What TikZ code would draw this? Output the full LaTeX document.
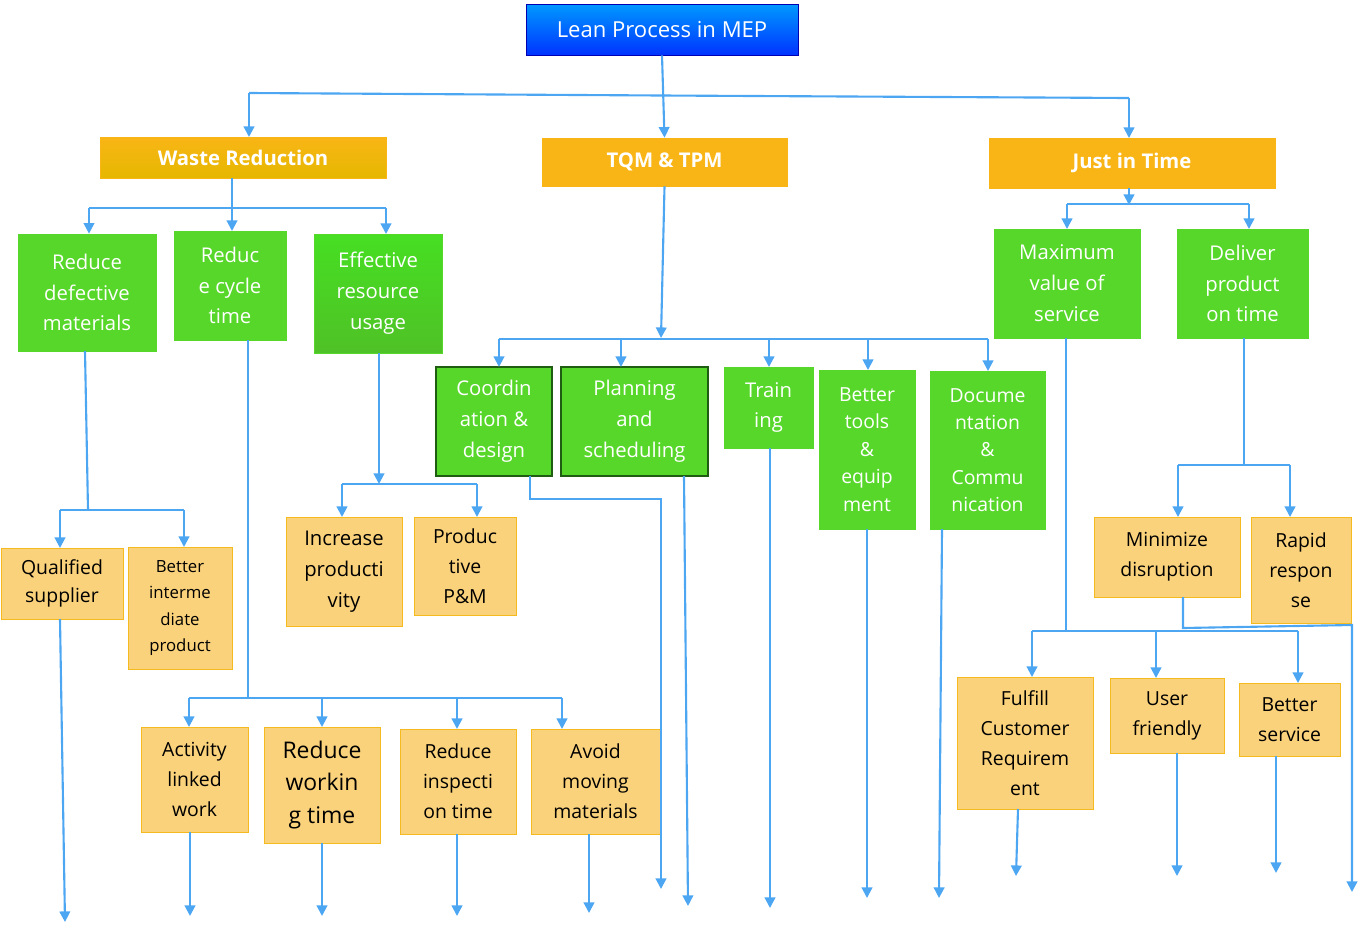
\documentclass[tikz,border=0pt]{standalone}
\usepackage{fontspec}
\setmainfont{Open Sans}
\usetikzlibrary{arrows.meta}
\definecolor{ln}{HTML}{4DA6F2}
\definecolor{gr}{HTML}{58D72B}
\definecolor{dg}{HTML}{1F5E12}
\definecolor{lo}{HTML}{FAD27C}
\definecolor{lob}{HTML}{F5BA1E}
\definecolor{og}{HTML}{F9B516}
\begin{document}
\begin{tikzpicture}[x=0.5669pt,y=-0.5669pt,
 sz/.style 2 args={minimum width=#1*0.5669pt, minimum height=#2*0.5669pt, inner sep=1pt},
 gbox/.style={draw=gr,fill=gr,text=white,align=center,font=\fontsize{11.5}{17.5}\selectfont},
 obox/.style={draw=lob,fill=lo,text=black,align=center,font=\fontsize{11.5}{17.5}\selectfont},
 hbox/.style={draw=og,fill=og,text=white,font=\bfseries\fontsize{11.5}{14}\selectfont},
 ar/.style={draw=ln,line width=1.2pt,-{Triangle[width=6pt,length=6pt]}},
 li/.style={draw=ln,line width=1.2pt}]
\useasboundingbox (0,0) rectangle (1363,925);
% top
\node[sz={272}{51},draw=blue!70!black,top color=blue!40!cyan,bottom color=blue!80!cyan,text=white,font=\fontsize{12.5}{15}\selectfont] (top) at (662,29.5) {Lean Process in MEP};
\node[hbox,sz={286}{41},top color=og,bottom color=yellow!60!orange!90!black] (wr) at (243,157.5) {Waste Reduction};
\node[hbox,sz={245}{48}] (tqm) at (664.5,162) {TQM \& TPM};
\node[hbox,sz={286}{50}] (jit) at (1132,163) {Just in Time};
% green
\node[gbox,sz={138}{117}] (g1) at (87,292.5) {Reduce\\defective\\materials};
\node[gbox,sz={112}{109}] (g2) at (230,285.5) {Reduc\\e cycle\\time};
\node[gbox,sz={128}{119},top color=gr!80!green,bottom color=gr!90!black] (g3) at (378,293.5) {Effective\\resource\\usage};
\node[gbox,sz={116}{109},draw=dg,line width=1.2pt] (g4) at (494,421.5) {Coordin\\ation \&\\design};
\node[gbox,sz={147}{109},draw=dg,line width=1.2pt] (g5) at (634.5,421.5) {Planning\\and\\scheduling};
\node[gbox,sz={89}{81}] (g6) at (768.5,407.5) {Train\\ing};
\node[gbox,sz={96}{159},font=\fontsize{11}{15.5}\selectfont] (g7) at (867,449.5) {Better\\tools\\\&\\equip\\ment};
\node[gbox,sz={115}{158},font=\fontsize{11}{15.5}\selectfont] (g8) at (987.5,450) {Docume\\ntation\\\&\\Commu\\nication};
\node[gbox,sz={146}{109}] (g9) at (1067,283.5) {Maximum\\value of\\service};
\node[gbox,sz={131}{109}] (g10) at (1242.5,283.5) {Deliver\\product\\on time};
% orange
\node[obox,sz={122}{71},font=\fontsize{11}{15.5}\selectfont] (o1) at (62,583.5) {Qualified\\supplier};
\node[obox,sz={104}{122},font=\fontsize{9.5}{15}\selectfont] (o2) at (180,608) {Better\\interme\\diate\\product};
\node[obox,sz={116}{109}] (o3) at (344,571.5) {Increase\\producti\\vity};
\node[obox,sz={102}{98},font=\fontsize{11}{17}\selectfont] (o4) at (465,566) {Produc\\tive\\P\&M};
\node[obox,sz={107}{105},font=\fontsize{11}{17}\selectfont] (o5) at (194.5,779.5) {Activity\\linked\\work};
\node[obox,sz={116}{116},font=\fontsize{13}{18.5}\selectfont] (o6) at (322,785) {Reduce\\workin\\g time};
\node[obox,sz={116}{105},font=\fontsize{11}{17}\selectfont] (o7) at (458,781.5) {Reduce\\inspecti\\on time};
\node[obox,sz={129}{105},font=\fontsize{11}{17}\selectfont] (o8) at (595.5,781.5) {Avoid\\moving\\materials};
\node[obox,sz={146}{80},font=\fontsize{11}{17}\selectfont] (o9) at (1167,557) {Minimize\\disruption};
\node[obox,sz={100}{106},font=\fontsize{11}{17}\selectfont] (o10) at (1301,570) {Rapid\\respon\\se};
\node[obox,sz={136}{132},font=\fontsize{11}{17}\selectfont] (o11) at (1025,743) {Fulfill\\Customer\\Requirem\\ent};
\node[obox,sz={114}{75},font=\fontsize{11}{17}\selectfont] (o12) at (1167,715.5) {User\\friendly};
\node[obox,sz={101}{73},font=\fontsize{11}{17}\selectfont] (o13) at (1289.5,719.5) {Better\\service};
% free ends
\coordinate (e1) at (65,922); \coordinate (e2) at (190,916); \coordinate (e3) at (322,916);
\coordinate (e4) at (457,916); \coordinate (e5) at (589,913); \coordinate (e6) at (661,889);
\coordinate (e7) at (688,906); \coordinate (e8) at (770,908); \coordinate (e9) at (867,898);
\coordinate (e10) at (939,898); \coordinate (e11) at (1016,876); \coordinate (e12) at (1177,876);
\coordinate (e13) at (1276,873); \coordinate (e14) at (1352,892);
% top level
\draw[ar] (top.south) -- (tqm.north);
\draw[li] (249,93) -- (661,95.5) -- (1129,98);
\draw[ar] (249,93) -- (249,137);
\draw[ar] (1129,98) -- (1129,138);
% waste
\draw[li] (232,178) -- (232,208); \draw[li] (89,208) -- (386,208);
\draw[ar] (89,208) -- (g1.north -| 89,0);
\draw[ar] (232,208) -- (232,231);
\draw[ar] (386,208) -- (386,234);
% TQM
\draw[ar] (tqm.south) -- (661,338);
\draw[li] (499,339) -- (988,339);
\draw[ar] (499,339) -- (499,367); \draw[ar] (621,339) -- (621,367);
\draw[ar] (769,339) -- (769,367); \draw[ar] (868,339) -- (868,370);
\draw[ar] (988,339) -- (988,371);
% JIT
\draw[li] (1129,188) -- (1129,204); \draw[ar] (1129,188) -- (1129,205);
\draw[li] (1067,204) -- (1249,204);
\draw[ar] (1067,204) -- (1067,229); \draw[ar] (1249,204) -- (1249,229);
% reduce defective
\draw[li] (85,351) -- (88,510); \draw[li] (60,510) -- (184,510);
\draw[ar] (60,510) -- (60,548); \draw[ar] (184,510) -- (184,547);
\draw[ar] (60,619) -- (e1);
% cycle time
\draw[li] (248,340) -- (248,698); \draw[li] (189,698) -- (562,698);
\draw[ar] (189,698) -- (189,727); \draw[ar] (322,698) -- (322,727);
\draw[ar] (457,698) -- (457,729); \draw[ar] (562,698) -- (562,729);
% effective
\draw[ar] (379,353) -- (379,484);
\draw[li] (342,484) -- (477,484);
\draw[ar] (342,484) -- (342,517); \draw[ar] (477,484) -- (477,517);
% ends
\draw[ar] (190,832) -- (e2); \draw[ar] (322,843) -- (e3);
\draw[ar] (457,834) -- (e4); \draw[ar] (589,834) -- (e5);
\draw[ar] (530,476) -- (530,499) -- (661,499) -- (e6);
\draw[ar] (684,476) -- (e7); \draw[ar] (770,448) -- (e8);
\draw[ar] (867,529) -- (e9); \draw[ar] (942,529) -- (e10);
% max value
\draw[li] (1066,338) -- (1066,631); \draw[li] (1032,631) -- (1298,631);
\draw[ar] (1032,631) -- (1032,677); \draw[ar] (1156,631) -- (1156,678);
\draw[ar] (1298,631) -- (1298,683);
% deliver
\draw[li] (1244,338) -- (1244,465); \draw[li] (1178,465) -- (1290,465);
\draw[ar] (1178,465) -- (1178,517); \draw[ar] (1290,465) -- (1290,517);
\draw[ar] (1183,597) -- (1183,628) -- (1352,625) -- (e14);
\draw[ar] (1018,809) -- (e11); \draw[ar] (1177,753) -- (e12); \draw[ar] (1276,756) -- (e13);
\end{tikzpicture}
\end{document}
